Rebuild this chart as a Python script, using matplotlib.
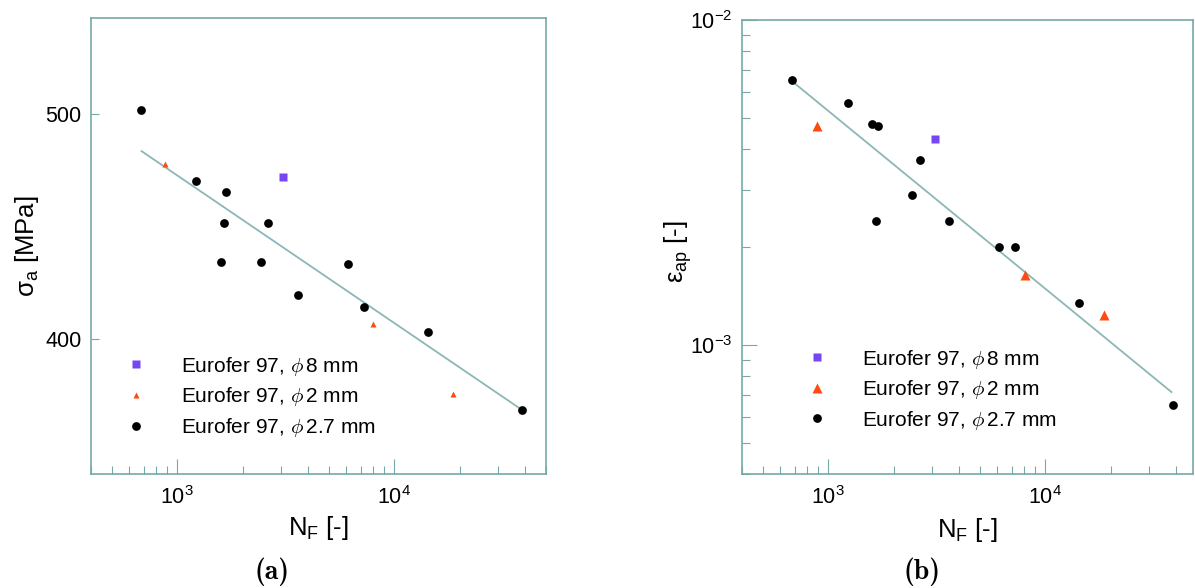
import numpy as np
import matplotlib
matplotlib.use("Agg")
import matplotlib.pyplot as plt
from matplotlib.ticker import FixedLocator, FuncFormatter, NullFormatter, LogLocator
from matplotlib.font_manager import FontProperties

plt.rcParams['font.family'] = ['Liberation Sans', 'DejaVu Sans']
plt.rcParams['mathtext.fontset'] = 'dejavusans'

# ---- series labels ----
labels = ['Eurofer 97, $\\phi\\,$8 mm',
          'Eurofer 97, $\\phi\\,$2 mm',
          'Eurofer 97, $\\phi\\,$2.7 mm']

# ---- (a) stress amplitude vs cycles to failure ----
a_N_8 = [3080]
a_s_8 = [470]
a_N_2 = [875, 8000, 18600]
a_s_2 = [476, 406, 379]
a_N_27 = [680, 1225, 1680, 1640, 2625, 1595, 2435, 6100, 3590, 7230, 14300, 38700]
a_s_27 = [502, 468, 463, 449, 449, 432, 432, 431, 418, 413, 403, 373]
a_fit_N = [684, 38700]
a_fit_s = [482, 373]

# ---- (b) plastic strain amplitude vs cycles to failure ----
b_N_8 = [3090]
b_e_8 = [4.29e-3]
b_N_2 = [886, 8080, 18660]
b_e_2 = [4.71e-3, 1.645e-3, 1.234e-3]
b_N_27 = [682, 1233, 1595, 1701, 1661, 2649, 2434, 3597, 6095, 7249, 14309, 38670]
b_e_27 = [6.55e-3, 5.57e-3, 4.80e-3, 4.70e-3, 2.40e-3, 3.70e-3, 2.89e-3, 2.40e-3,
          2.00e-3, 2.00e-3, 1.34e-3, 6.53e-4]
b_fit_N = [688, 38200]
b_fit_e = [6.44e-3, 7.15e-4]

a_yticks = [400, 500]

SPINE = '#74a9a8'
FIT = '#8db6b6'
PURPLE = '#7646f2'
RED = '#ff4a12'

W, H = 1195, 588
fig = plt.figure(figsize=(W / 100, H / 100), dpi=100)


def px_axes(l, r, t, b):
    return fig.add_axes([l / W, 1 - b / H, (r - l) / W, (b - t) / H])


ax_a = px_axes(91, 546, 18, 474)
ax_b = px_axes(742, 1193, 20, 474)

pow_fmt = FuncFormatter(
    lambda v, _: '$\\mathregular{10^{%d}}$' % int(round(np.log10(v))))


def style(ax):
    ax.set_xscale('log')
    ax.set_yscale('log')
    for s in ax.spines.values():
        s.set_color(SPINE)
        s.set_linewidth(1.2)
    ax.tick_params(which='both', direction='in', color=SPINE, width=0.8,
                   top=False, right=False, labelsize=15.5, labelcolor='black')
    ax.tick_params(which='major', length=11)
    ax.tick_params(which='minor', length=5.5)
    ax.tick_params(axis='x', which='both', pad=9)
    ax.tick_params(axis='y', which='both', pad=7)
    ax.xaxis.set_major_locator(FixedLocator([1e3, 1e4]))
    ax.xaxis.set_minor_locator(LogLocator(base=10, subs=np.arange(2, 10)))
    ax.xaxis.set_major_formatter(pow_fmt)
    ax.xaxis.set_minor_formatter(NullFormatter())


legend_prop = FontProperties(family='Liberation Sans', size=15, math_fontfamily='cm')

# ---- panel (a) ----
style(ax_a)
ax_a.plot(a_fit_N, a_fit_s, color=FIT, lw=1.3, zorder=2)
ax_a.plot(a_N_8, a_s_8, ls='none', marker='s', ms=5.2, color=PURPLE, mec='none',
          label=labels[0], zorder=3)
ax_a.plot(a_N_2, a_s_2, ls='none', marker='^', ms=4.2, color=RED, mec='none',
          label=labels[1], zorder=3)
ax_a.plot(a_N_27, a_s_27, ls='none', marker='o', ms=6.3, color='black', mec='none',
          label=labels[2], zorder=3)
ax_a.set_xlim(400, 50000)
ax_a.set_ylim(350, 550)
ax_a.yaxis.set_major_locator(FixedLocator(a_yticks))
ax_a.yaxis.set_minor_locator(FixedLocator([]))
ax_a.yaxis.set_major_formatter(FuncFormatter(lambda v, _: '%d' % v))
ax_a.tick_params(axis='y', which='major', length=5.5)
ax_a.set_xlabel('$\\mathregular{N_F}$ [-]', fontsize=18.5)
ax_a.set_ylabel('$\\mathregular{\\sigma_a}$ [MPa]', fontsize=18.5)
ax_a.xaxis.label.set_va('center')
ax_a.yaxis.label.set_va('center')
ax_a.xaxis.set_label_coords(0.5, -0.118)
ax_a.yaxis.set_label_coords(-0.141, 0.5)
ax_a.legend(loc='upper left', bbox_to_anchor=(0.075, 0.262), frameon=False,
            prop=legend_prop, numpoints=1, handlelength=1.0, handletextpad=1.66,
            labelspacing=0.38, borderpad=0, borderaxespad=0)

# ---- panel (b) ----
style(ax_b)
ax_b.plot(b_fit_N, b_fit_e, color=FIT, lw=1.3, zorder=2)
ax_b.plot(b_N_8, b_e_8, ls='none', marker='s', ms=5.2, color=PURPLE, mec='none',
          label=labels[0], zorder=3)
ax_b.plot(b_N_2, b_e_2, ls='none', marker='^', ms=6.8, color=RED, mec='none',
          label=labels[1], zorder=3)
ax_b.plot(b_N_27, b_e_27, ls='none', marker='o', ms=6.3, color='black', mec='none',
          label=labels[2], zorder=3)
ax_b.set_xlim(400, 48000)
ax_b.set_ylim(4e-4, 1e-2)
ax_b.yaxis.set_major_locator(FixedLocator([1e-3, 1e-2]))
ax_b.yaxis.set_minor_locator(LogLocator(base=10, subs=np.arange(2, 10)))
ax_b.yaxis.set_major_formatter(pow_fmt)
ax_b.yaxis.set_minor_formatter(NullFormatter())
ax_b.set_xlabel('$\\mathregular{N_F}$ [-]', fontsize=18.5)
ax_b.set_ylabel('$\\mathregular{\\varepsilon_{ap}}$ [-]', fontsize=18.5)
ax_b.xaxis.label.set_va('center')
ax_b.yaxis.label.set_va('center')
ax_b.xaxis.set_label_coords(0.5, -0.123)
ax_b.yaxis.set_label_coords(-0.142, 0.49)
ax_b.legend(loc='upper left', bbox_to_anchor=(0.144, 0.278), frameon=False,
            prop=legend_prop, numpoints=1, handlelength=1.0, handletextpad=1.66,
            labelspacing=0.36, borderpad=0, borderaxespad=0)

# ---- panel captions ----
fig.text(272 / W, 1 - 572 / H, '(a)', ha='center', va='center',
         fontfamily='cmb10', fontsize=20)
fig.text(922 / W, 1 - 572 / H, '(b)', ha='center', va='center',
         fontfamily='cmb10', fontsize=20)

fig.savefig('out.png', dpi=100, facecolor='white')
